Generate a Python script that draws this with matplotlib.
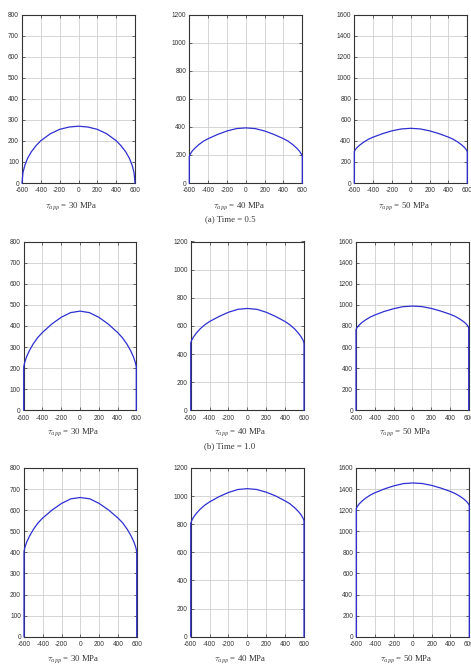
import matplotlib
matplotlib.use("Agg")
import matplotlib.pyplot as plt

plt.rcParams['mathtext.fontset'] = 'cm'

x_pos = [-600, -600, -590, -570, -540, -500, -450, -400, -300, -200, -100, 0,
         100, 200, 300, 400, 450, 500, 540, 570, 590, 600, 600]

# Time = 0.5
t05_30 = [0, 0, 49, 84, 118, 149, 178, 201, 234, 255, 266, 270,
          266, 255, 234, 201, 178, 149, 118, 84, 49, 0, 0]
t05_40 = [0, 190, 206, 227, 249, 273, 298, 316, 346, 371, 388, 393,
          388, 371, 346, 316, 298, 273, 249, 227, 206, 190, 0]
t05_50 = [0, 298, 316, 338, 362, 389, 416, 436, 469, 496, 514, 520,
          514, 496, 469, 436, 416, 389, 362, 338, 316, 298, 0]
# Time = 1.0
t10_30 = [0, 205, 226, 253, 282, 314, 345, 369, 409, 441, 463, 470,
          463, 441, 409, 369, 345, 314, 282, 253, 226, 205, 0]
t10_40 = [0, 478, 498, 522, 549, 579, 608, 631, 667, 697, 718, 724,
          718, 697, 667, 631, 608, 579, 549, 522, 498, 478, 0]
t10_50 = [0, 765, 783, 805, 830, 856, 883, 903, 937, 963, 982, 988,
          983, 966, 941, 911, 893, 868, 844, 822, 801, 785, 0]
# Time = 1.5
t15_30 = [0, 404, 424, 450, 478, 509, 540, 563, 601, 632, 654, 660,
          654, 632, 601, 563, 540, 509, 478, 450, 424, 404, 0]
t15_40 = [0, 805, 825, 850, 877, 907, 936, 959, 996, 1026, 1047, 1053,
          1047, 1028, 1001, 966, 946, 918, 891, 866, 843, 825, 0]
t15_50 = [0, 1215, 1234, 1259, 1285, 1315, 1344, 1366, 1402, 1431, 1452, 1458,
          1453, 1435, 1409, 1377, 1358, 1332, 1307, 1283, 1262, 1245, 0]

series = [[t05_30, t05_40, t05_50],
          [t10_30, t10_40, t10_50],
          [t15_30, t15_40, t15_50]]
stresses = [30, 40, 50]
y_limits = [800, 1200, 1600]
y_steps = [100, 200, 200]
x_ticks = [-600, -400, -200, 0, 200, 400, 600]
row_captions = ['(a) Time = 0.5', '(b) Time = 1.0', None]

W, H = 471, 668
fig = plt.figure(figsize=(W / 100, H / 100), dpi=100)

col_lr = [[(22, 135), (189.3, 302.3), (354.3, 467.3)],
          [(23.7, 136.3), (190.7, 304), (356, 468.7)],
          [(24, 136.7), (190.7, 304), (356.3, 469.3)]]
row_tb = [(14.7, 183), (241.5, 410.3), (468, 636.7)]
cap_y = [206.5, 432.5, 659.5]
row_cap_y = [219.5, 446]

tick_font = dict(family='Liberation Sans', size=4.7)
for r in range(3):
    top, bot = row_tb[r]
    for c in range(3):
        l, rr = col_lr[r][c]
        ax = fig.add_axes([l / W, 1 - bot / H, (rr - l) / W, (bot - top) / H])
        ax.plot(x_pos, series[r][c], color='#2f2fd2', lw=0.9, zorder=5, clip_on=False)
        ax.set_xlim(-600, 600)
        ax.set_ylim(0, y_limits[c])
        yt = list(range(0, y_limits[c] + 1, y_steps[c]))
        ax.set_xticks(x_ticks)
        ax.set_yticks(yt)
        ax.set_xticklabels([str(v) for v in x_ticks], fontdict=tick_font, color='#333333')
        ax.set_yticklabels([str(v) for v in yt], fontdict=tick_font, color='#333333')
        ax.grid(True, color='#cfcfcf', lw=0.6)
        ax.set_axisbelow(True)
        ax.tick_params(direction='in', length=2, width=0.5, top=True, right=True,
                       colors='#333333')
        ax.tick_params(axis='x', pad=3.2)
        ax.tick_params(axis='y', pad=2.2)
        for s in ax.spines.values():
            s.set_color('#333333')
            s.set_linewidth(0.8)
        cx = (l + rr) / 2 - 7
        fig.text(cx / W, 1 - cap_y[r] / H,
                 r'$\tau_{app}$ = %d MPa' % stresses[c],
                 ha='center', va='center', family='Liberation Serif', size=6.3,
                 color='#333333')
    if row_captions[r]:
        fig.text(230 / W, 1 - row_cap_y[r] / H, row_captions[r], ha='center',
                 va='center', family='Liberation Serif', size=6.3, color='#333333')

fig.savefig('out.png', dpi=100)
